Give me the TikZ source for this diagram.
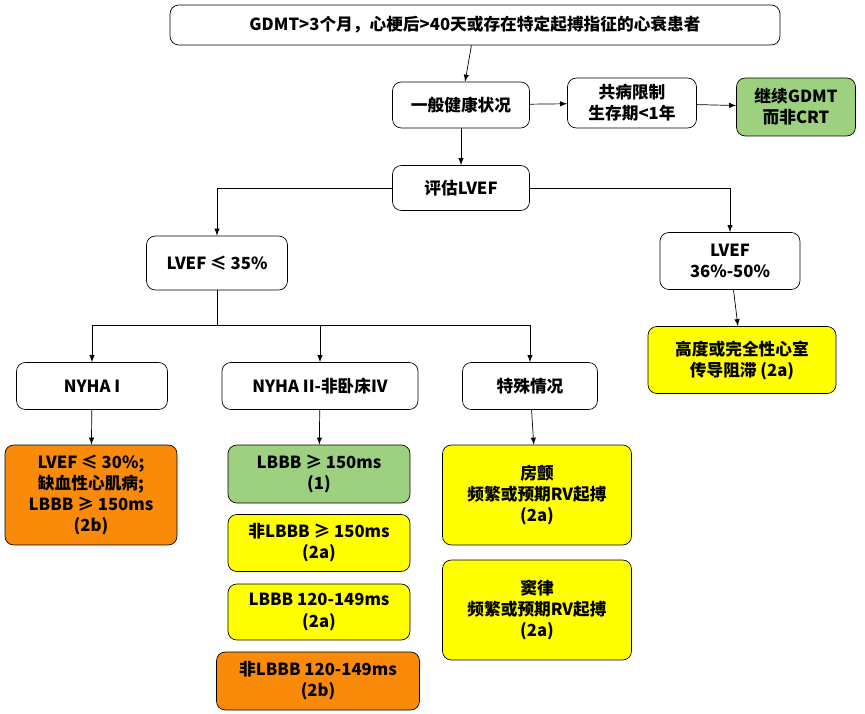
\documentclass[tikz,border=0pt]{standalone}
\usepackage{fontspec}
\setmainfont{Noto Sans CJK SC}
\usetikzlibrary{calc}
\usetikzlibrary{shapes,arrows}
\definecolor{boxgreen}{HTML}{9DD17F}
\definecolor{boxyellow}{HTML}{FFFF00}
\definecolor{boxorange}{HTML}{FA8A0A}
\tikzset{
  box/.style={draw,rounded corners=5pt,fill=white,align=center,font=\fontsize{9.5}{12}\selectfont\bfseries,inner sep=2pt},
  arr/.style={-latex}
}
\begin{document}
\begin{tikzpicture}[x=0.02cm,y=-0.02cm]
    \useasboundingbox (0,0) rectangle (865,713);
    \node [box,minimum width=12.2cm,minimum height=0.8cm] (top) at (475,25) {GDMT>3个月，心梗后>40天或存在特定起搏指征的心衰患者};
    \node [box,minimum width=2.74cm,minimum height=0.92cm] (health) at (461,105) {一般健康状况};
    \node [box,minimum width=2.58cm,minimum height=1cm] (comorb) at (632,103) {共病限制\\生存期<1年};
    \node [box,fill=boxgreen,minimum width=2.38cm,minimum height=1.16cm] (cont) at (796,107) {继续GDMT\\而非CRT};
    \node [box,minimum width=2.74cm,minimum height=0.9cm] (eval) at (461,188) {评估LVEF};
    \node [box,minimum width=2.82cm,minimum height=1.08cm] (low) at (217,263) {LVEF ≤ 35\%};
    \node [box,minimum width=2.8cm,minimum height=1.14cm] (mid) at (730,261) {LVEF\\36\%-50\%};
    \node [box,fill=boxyellow,minimum width=3.76cm,minimum height=1.34cm] (block) at (742,360) {高度或完全性心室\\传导阻滞 (2a)};
    \node [box,minimum width=3.02cm,minimum height=0.94cm] (nyha1) at (92,386) {NYHA I};
    \node [box,minimum width=3.92cm,minimum height=0.94cm] (nyha2) at (320,386) {NYHA II-非卧床IV};
    \node [box,minimum width=2.7cm,minimum height=0.94cm] (spec) at (530,386) {特殊情况};
    \node [box,fill=boxorange,minimum width=3.44cm,minimum height=2cm] (n1a) at (91,495) {LVEF ≤ 30\%;\\缺血性心肌病;\\LBBB ≥ 150ms\\(2b)};
    \node [box,fill=boxgreen,minimum width=3.64cm,minimum height=1.16cm] (n2a) at (319,474) {LBBB ≥ 150ms\\(1)};
    \node [box,fill=boxyellow,minimum width=3.64cm,minimum height=1.14cm] (n2b) at (319,543) {非LBBB ≥ 150ms\\(2a)};
    \node [box,fill=boxyellow,minimum width=3.64cm,minimum height=1.12cm] (n2c) at (319,612) {LBBB 120-149ms\\(2a)};
    \node [box,fill=boxorange,minimum width=4.06cm,minimum height=1.16cm] (n2d) at (318,681) {非LBBB 120-149ms\\(2b)};
    \node [box,fill=boxyellow,minimum width=3.78cm,minimum height=2cm] (af) at (537,495) {房颤\\频繁或预期RV起搏\\(2a)};
    \node [box,fill=boxyellow,minimum width=3.78cm,minimum height=2cm] (sr) at (537,610) {窦律\\频繁或预期RV起搏\\(2a)};
      \draw [arr] (top) -- (health);
      \draw [arr] (health) -- (comorb);
      \draw [arr] (comorb) -- (cont);
      \draw [arr] (health) -- (eval);
      \draw [arr] (eval.west) -| (low.north);
      \draw [arr] (eval.east) -| (mid.north);
      \draw [arr] (mid) -- (block);
      \coordinate (split) at (217,325);
      \draw (low.south) -- (split);
      \draw [arr] (split) -| (nyha1.north);
      \draw [arr] (split) -| (spec.north);
      \draw [arr] (split -| nyha2.north) -- (nyha2.north);
      \draw [arr] (nyha1) -- (n1a);
      \draw [arr] (nyha2) -- (n2a);
      \draw [arr] (spec) -- (af);
  \end{tikzpicture}
\end{document}
